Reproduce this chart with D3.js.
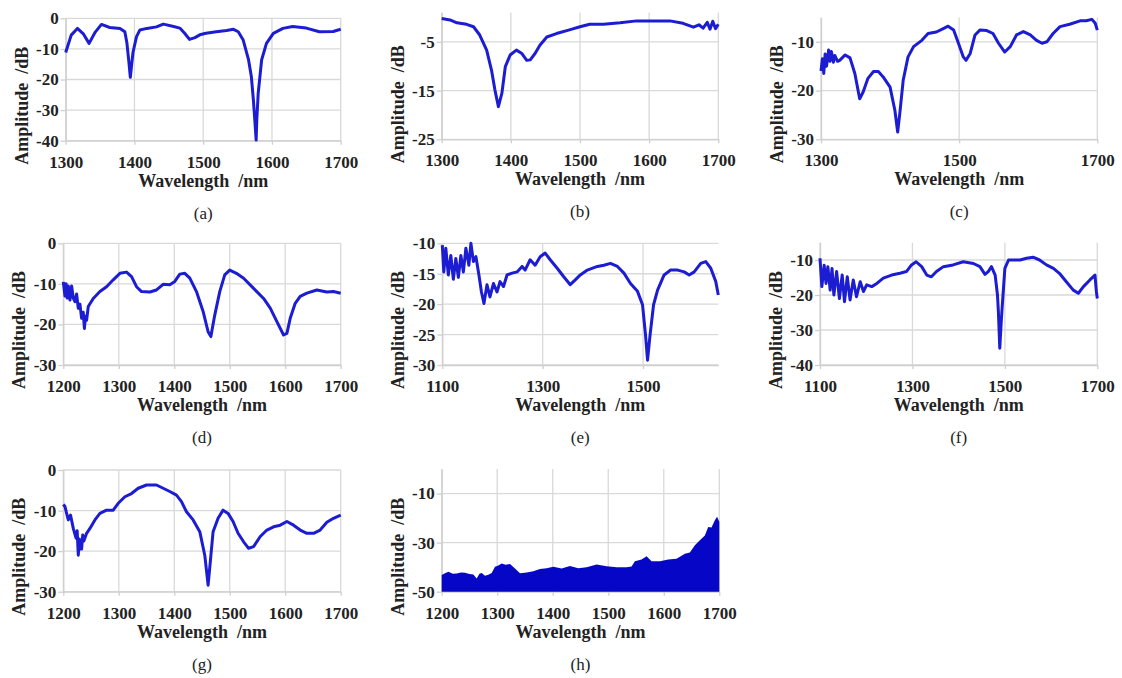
<!DOCTYPE html>
<html>
<head>
<meta charset="utf-8">
<script src="https://cdn.jsdelivr.net/npm/d3@7"></script>
<style>
  body { margin: 0; background: #ffffff; }
  svg { display: block; }
</style>
</head>
<body>
<div id="figure"></div>
<script>
//DATA: [wavelength nm, amplitude dB]
let specA = [[1300,-11.2],[1308,-5.5],[1317,-3.3],[1326,-5.2],[1334,-8.2],[1343,-4.5],[1352,-2.0],[1364,-3.0],
  [1379,-3.3],[1386,-4.4],[1389,-8],[1392,-14.5],[1394,-19.3],[1396,-15],[1398,-11],[1403,-6.0],[1408,-3.8],
  [1418,-3.3],[1432,-2.8],[1442,-1.9],[1457,-2.7],[1466,-3.2],[1473,-4.9],[1480,-6.9],[1488,-6.3],[1495,-5.4],
  [1504,-4.9],[1519,-4.4],[1534,-4.0],[1544,-3.6],[1551,-4.4],[1558,-7.0],[1566,-13.6],[1570,-19],[1573,-26.7],
  [1575,-33],[1577,-39.8],[1578,-33],[1580,-24.5],[1585,-13.6],[1592,-8.2],[1602,-4.9],[1616,-3.3],[1630,-2.7],
  [1650,-3.2],[1669,-4.4],[1689,-4.3],[1700,-3.6]];

let specB = [[1300,-0.2],[1312,-0.5],[1322,-1.1],[1336,-1.4],[1346,-1.9],[1355,-3.6],[1365,-6.7],[1372,-10.8],
  [1377,-14.9],[1382,-18.3],[1387,-15.6],[1392,-10.1],[1399,-7.7],[1408,-6.7],[1416,-7.4],[1423,-8.8],[1428,-8.7],
  [1435,-7.4],[1442,-5.7],[1452,-4.0],[1466,-3.3],[1486,-2.5],[1500,-1.9],[1514,-1.4],[1534,-1.4],[1558,-1.1],
  [1582,-0.7],[1606,-0.7],[1630,-0.7],[1649,-1.2],[1664,-2.0],[1672,-1.5],[1678,-2.2],[1684,-1.0],[1688,-2.4],
  [1692,-0.8],[1696,-2.3],[1700,-1.4]];

let specC = [[1300,-16],[1302,-13.5],[1304,-16.5],[1306,-12.5],[1308,-15],[1311,-11.7],[1313,-14],[1315,-12],
  [1318,-14.2],[1320,-12.8],[1324,-14],[1327,-13.8],[1335,-12.7],[1342,-13.3],[1349,-16.5],[1356,-21.7],[1361,-20.3],
  [1368,-17.5],[1376,-16.1],[1383,-16.1],[1390,-17.2],[1400,-19.3],[1407,-24.1],[1411,-28.5],[1414,-24.8],[1419,-17.9],
  [1426,-13.1],[1434,-11],[1446,-9.7],[1455,-8.3],[1467,-8],[1477,-7.3],[1484,-6.8],[1492,-7.6],[1499,-10.3],
  [1506,-13.1],[1510,-13.8],[1516,-12.4],[1523,-8.6],[1530,-7.6],[1540,-7.7],[1549,-8.3],[1557,-10.3],[1566,-12.1],
  [1574,-11],[1583,-8.6],[1593,-7.9],[1603,-8.6],[1612,-9.7],[1620,-10.3],[1627,-10],[1636,-8.3],[1646,-6.9],
  [1660,-6.4],[1675,-5.7],[1684,-5.7],[1692,-5.4],[1697,-6.2],[1700,-7.6]];

let specD = [[1200,-9.5],[1203,-13],[1205,-10],[1207,-13.5],[1209,-10.5],[1212,-14],[1215,-10.5],[1218,-13.5],
  [1221,-14.4],[1224,-12.5],[1227,-16],[1230,-15],[1233,-18.5],[1236,-17],[1238,-21],[1240,-18],[1242,-19],
  [1245,-15.6],[1254,-13.6],[1266,-11.9],[1278,-10.7],[1290,-9],[1302,-7.4],[1314,-7.1],[1323,-8.2],[1332,-10.7],
  [1341,-11.9],[1356,-12],[1368,-11.5],[1380,-10.1],[1392,-10.2],[1401,-9.4],[1410,-7.6],[1419,-7.4],[1428,-8.6],
  [1440,-11.9],[1452,-16.8],[1461,-21.8],[1466,-23],[1473,-17.7],[1482,-11.9],[1491,-7.8],[1500,-6.6],[1512,-7.4],
  [1525,-8.6],[1543,-11.1],[1561,-13.6],[1573,-16],[1585,-19.3],[1597,-22.6],[1603,-22.2],[1609,-18.5],[1618,-14.8],
  [1627,-13.1],[1639,-12.3],[1657,-11.5],[1675,-12],[1687,-11.9],[1700,-12.3]];

let specE = [[1100,-10.3],[1103,-14.7],[1107,-10.8],[1112,-15.2],[1117,-12],[1122,-15.9],[1127,-12.5],[1132,-15.6],
  [1137,-12],[1142,-14.7],[1147,-10.8],[1153,-13.6],[1157,-10],[1162,-13],[1167,-12.2],[1173,-15.2],[1178,-18],
  [1183,-19.9],[1189,-16.8],[1195,-18.8],[1202,-16.6],[1209,-18],[1215,-16.3],[1222,-17.1],[1229,-15.2],[1239,-14.9],
  [1249,-14.7],[1259,-13.8],[1265,-14.4],[1275,-12.7],[1285,-13.6],[1295,-12.2],[1305,-11.6],[1315,-12.7],[1329,-14.1],
  [1342,-15.5],[1355,-16.8],[1365,-16],[1375,-15.2],[1389,-14.4],[1409,-13.8],[1422,-13.6],[1435,-13.3],[1449,-13.8],
  [1462,-14.9],[1475,-16.6],[1489,-17.9],[1499,-20.1],[1505,-25.1],[1509,-29.2],[1514,-25.1],[1521,-20.1],[1529,-17.7],
  [1542,-15.2],[1555,-14.4],[1569,-14.4],[1582,-14.7],[1592,-15.2],[1602,-14.7],[1615,-13.3],[1625,-13],[1635,-14.1],
  [1645,-16.3],[1650,-18.5]];

let specF = [[1100,-9.5],[1104,-17.6],[1109,-11.5],[1113,-16.7],[1117,-11.9],[1122,-18.6],[1126,-12.4],[1130,-20],
  [1136,-13.3],[1142,-21],[1148,-14.3],[1153,-21.9],[1159,-14.8],[1165,-21.4],[1172,-15.7],[1179,-20.5],[1187,-16.2],
  [1194,-19],[1201,-17.1],[1212,-17.6],[1223,-16.7],[1237,-15.2],[1255,-14.3],[1273,-13.8],[1287,-13.3],[1298,-11.4],
  [1308,-10.5],[1320,-11.9],[1331,-14.3],[1341,-14.8],[1352,-13.3],[1367,-11.9],[1388,-11.4],[1410,-10.5],[1432,-11],
  [1446,-11.9],[1457,-14.1],[1464,-13.3],[1471,-11.9],[1479,-14.3],[1484,-20],[1486,-24.8],[1489,-35.2],[1492,-28],
  [1494,-23.8],[1500,-12.4],[1508,-10],[1518,-10],[1533,-10],[1547,-9.5],[1561,-9.2],[1575,-10],[1590,-11.4],
  [1605,-12.4],[1618,-13.8],[1633,-16.2],[1648,-18.6],[1659,-19.5],[1670,-17.6],[1684,-15.7],[1695,-14.3],
  [1698,-19],[1700,-21]];

let specG = [[1200,-8.5],[1203,-9],[1206,-10.7],[1209,-12.3],[1213,-11.1],[1218,-14.4],[1223,-16.8],[1225,-15],
  [1227,-21],[1229,-17],[1230,-19.5],[1233,-19.5],[1235,-16],[1237,-17.5],[1242,-15.6],[1248,-14.4],[1257,-12.3],
  [1266,-10.7],[1278,-9.9],[1290,-9.9],[1299,-8.2],[1311,-6.6],[1323,-5.8],[1335,-4.5],[1350,-3.7],[1368,-3.7],
  [1380,-4.5],[1392,-5.3],[1404,-6.2],[1413,-7.8],[1422,-10.3],[1434,-12.3],[1446,-15.2],[1455,-21],[1461,-28.4],
  [1465,-22.6],[1470,-15.2],[1479,-11.9],[1488,-9.9],[1497,-10.7],[1506,-12.7],[1515,-15.6],[1525,-17.7],[1534,-19.3],
  [1543,-18.9],[1555,-16.4],[1567,-14.8],[1579,-14],[1591,-13.6],[1603,-12.7],[1615,-13.6],[1627,-14.8],[1639,-15.6],
  [1651,-15.6],[1663,-14.8],[1675,-12.9],[1687,-11.9],[1700,-11.1]];

let specH = [[1200,-43.2],[1206,-42.5],[1212,-41.9],[1220,-42.7],[1227,-42.6],[1235,-42.2],[1242,-42.3],[1250,-42.8],
  [1257,-43],[1263,-44.6],[1268,-42.7],[1272,-42.4],[1278,-43.5],[1284,-43.1],[1290,-42.4],[1296,-39.8],[1302,-39.3],
  [1308,-38.5],[1315,-39],[1323,-38.7],[1332,-40.5],[1341,-42.5],[1353,-42.2],[1365,-41.7],[1377,-40.7],[1389,-40.4],
  [1401,-39.8],[1416,-40.5],[1431,-39.5],[1446,-40.4],[1461,-40],[1479,-38.9],[1497,-39.6],[1515,-40],[1533,-40],
  [1542,-39.7],[1548,-37.6],[1560,-36.9],[1569,-35.6],[1578,-37.6],[1593,-37.6],[1608,-36.9],[1623,-36.6],[1638,-34.5],
  [1647,-34],[1656,-31.1],[1665,-29],[1674,-27.1],[1680,-23.6],[1686,-23.8],[1692,-20.9],[1696,-19.5],[1700,-21.5]];

//TICKS
let xTicks100 = [1300,1400,1500,1600,1700];
let xTicks200 = [1300,1500,1700];
let xTicksLong = [1200,1300,1400,1500,1600,1700];
let xTicksE = [1100,1300,1500];
let xTicksF = [1100,1300,1500,1700];
let yTicksA = [0,-10,-20,-30,-40];
let yTicksB = [-5,-15,-25];
let yTicksC = [-10,-20,-30];
let yTicksD = [0,-10,-20,-30];
let yTicksE = [-10,-15,-20,-25,-30];
let yTicksF = [-10,-20,-30,-40];
let yTicksH = [-10,-30,-50];
let labels = ["(a)","(b)","(c)","(d)","(e)","(f)","(g)","(h)"];

//LAYOUT (pixel boxes of each plot area)
let panels = [
  {data: specA, xDomain: [1300,1700], xTicks: xTicks100, yDomain: [-40,0], yTicks: yTicksA, left: 65.7, right: 340.7, top: 18.3, bottom: 140.7},
  {data: specB, xDomain: [1300,1700], xTicks: xTicks100, yDomain: [-25,1], yTicks: yTicksB, left: 441.7, right: 718.3, top: 12.6, bottom: 139.3},
  {data: specC, xDomain: [1300,1700], xTicks: xTicks200, yDomain: [-30,-5], yTicks: yTicksC, left: 821, right: 1097.3, top: 17.4, bottom: 139.3},
  {data: specD, xDomain: [1200,1700], xTicks: xTicksLong, yDomain: [-30,0], yTicks: yTicksD, left: 63.3, right: 340.7, top: 243.3, bottom: 365},
  {data: specE, xDomain: [1100,1650], xTicks: xTicksE, yDomain: [-30,-10], yTicks: yTicksE, left: 442.3, right: 718.3, top: 243.3, bottom: 365},
  {data: specF, xDomain: [1100,1700], xTicks: xTicksF, yDomain: [-40,-5], yTicks: yTicksF, left: 820, right: 1097.3, top: 242.5, bottom: 365},
  {data: specG, xDomain: [1200,1700], xTicks: xTicksLong, yDomain: [-30,0], yTicks: yTicksD, left: 63.3, right: 340.7, top: 470, bottom: 591.7},
  {data: specH, xDomain: [1200,1700], xTicks: xTicksLong, yDomain: [-50,0], yTicks: yTicksH, left: 441.7, right: 719.3, top: 469, bottom: 591.7, filled: true}
];

let serif = "Liberation Serif";
let gridColor = "#d9d9d9";
let lineColor = "#1c1cd2";
let textColor = "#222";

let svg = d3.select("#figure").append("svg")
    .attr("width", 1122)
    .attr("height", 678);

panels.forEach(function(p, i) {
  let xScale = d3.scaleLinear().domain(p.xDomain).range([p.left, p.right]);
  let yScale = d3.scaleLinear().domain(p.yDomain).range([p.bottom, p.top]);
  let g = svg.append("g").attr("class", "panel");

  //GRID
  g.selectAll(".hgrid")
    .data(p.yTicks)
    .enter().append("line")
    .attr("class", "hgrid")
    .attr("x1", p.left).attr("x2", p.right)
    .attr("y1", d => yScale(d)).attr("y2", d => yScale(d))
    .attr("stroke", gridColor).attr("stroke-width", 1.3);

  g.selectAll(".vgrid")
    .data(p.xTicks)
    .enter().append("line")
    .attr("class", "vgrid")
    .attr("x1", d => xScale(d)).attr("x2", d => xScale(d))
    .attr("y1", p.top).attr("y2", p.bottom)
    .attr("stroke", gridColor).attr("stroke-width", 1.3);

  //AXES
  let yAxis = d3.axisLeft(yScale)
      .tickValues(p.yTicks)
      .tickFormat(d => String(d))
      .tickSize(5).tickSizeOuter(0).tickPadding(2);
  g.append("g")
    .attr("transform", "translate(" + p.left + ",0)")
    .call(yAxis);

  let xAxis = d3.axisBottom(xScale)
      .tickValues(p.xTicks)
      .tickFormat(d => String(d))
      .tickSize(4).tickSizeOuter(0).tickPadding(11);
  g.append("g")
    .attr("transform", "translate(0," + p.bottom + ")")
    .call(xAxis);

  g.selectAll(".domain, .tick line").attr("stroke", "#cfcfcf").attr("stroke-width", 1.3);
  g.selectAll(".tick text")
    .style("font-family", serif)
    .style("font-weight", "bold")
    .style("font-size", "17px")
    .style("fill", textColor);

  //SPECTRUM
  if (p.filled) {
    let area = d3.area()
        .x(d => xScale(d[0]))
        .y0(yScale(p.yDomain[0]))
        .y1(d => yScale(d[1]));
    g.append("path")
      .datum(p.data)
      .attr("d", area)
      .attr("fill", "#0606c6");
  } else {
    let line = d3.line()
        .x(d => xScale(d[0]))
        .y(d => yScale(d[1]));
    g.append("path")
      .datum(p.data)
      .attr("d", line)
      .attr("fill", "none")
      .attr("stroke", lineColor)
      .attr("stroke-width", 3)
      .attr("stroke-linejoin", "round");
  }

  //TITLES
  let midX = (p.left + p.right) / 2;
  g.append("text")
    .attr("x", midX)
    .attr("y", p.bottom + 46)
    .attr("text-anchor", "middle")
    .style("font-family", serif).style("font-weight", "bold").style("font-size", "18px")
    .style("fill", textColor).style("white-space", "pre")
    .text("Wavelength  /nm");

  g.append("text")
    .attr("transform", "translate(" + (p.left - 38) + "," + (p.bottom - 35) + ") rotate(-90)")
    .attr("text-anchor", "middle")
    .style("font-family", serif).style("font-weight", "bold").style("font-size", "18px")
    .style("fill", textColor).style("white-space", "pre")
    .text("Amplitude  /dB");

  g.append("text")
    .attr("x", midX)
    .attr("y", p.bottom + 78)
    .attr("text-anchor", "middle")
    .style("font-family", serif).style("font-size", "17px").style("fill", textColor)
    .text(labels[i]);
});
</script>
</body>
</html>
